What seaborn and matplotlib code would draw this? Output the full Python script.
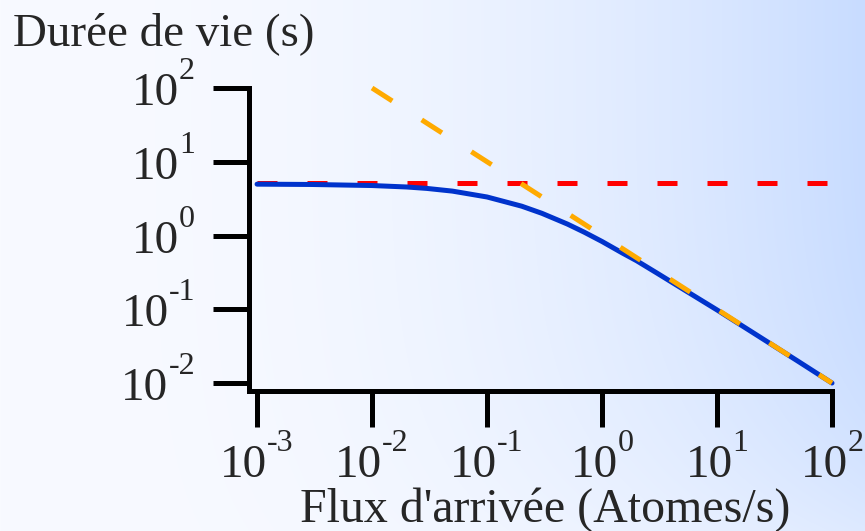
import numpy as np
import matplotlib
matplotlib.use("Agg")
import matplotlib.pyplot as plt
import seaborn as sns

# ---- data ----
flux = [1e-3, 3e-3, 1e-2, 2e-2, 3e-2, 5e-2, 0.1, 0.2, 0.3, 0.5, 0.7,
        1.0, 1.5, 2.0, 3.0, 5.0, 10.0, 20.0, 50.0, 100.0]
lifetime = [4.97, 4.92, 4.76, 4.55, 4.35, 4.0, 3.33, 2.5, 2.0, 1.43, 1.11,
            0.83, 0.58, 0.455, 0.31, 0.19, 0.098, 0.0495, 0.02, 0.01]
plateau_flux = [1e-3, 1e2]
plateau_life = [5.1, 5.1]
slope_flux = [1e-2, 1e2]
slope_life = [1e2, 1e-2]
xticks = [1e-3, 1e-2, 1e-1, 1e0, 1e1, 1e2]
xtick_exponents = ["-3", "-2", "-1", "0", "1", "2"]
yticks = [1e-2, 1e-1, 1e0, 1e1, 1e2]
ytick_exponents = ["-2", "-1", "0", "1", "2"]
tick_base = "10"
title_text = "Durée de vie (s)"
xlabel_text = "Flux d'arrivée (Atomes/s)"

sns.set_style("ticks")
plt.rcParams["font.family"] = ["Liberation Serif", "DejaVu Serif"]

W, H = 865, 531
fig = plt.figure(figsize=(W / 100, H / 100), dpi=100)

# background gradient
bg = fig.add_axes([0, 0, 1, 1], zorder=-10)
xx = np.linspace(0, 1, W)[None, :]
yy = np.linspace(0, 1, H)[:, None]
t = (xx ** 2.25) * (1 - 0.45 * yy ** 4)
left = np.array([248, 250, 255]) / 255
right = np.array([200, 220, 255]) / 255
img = left[None, None, :] * (1 - t[..., None]) + right[None, None, :] * t[..., None]
bg.imshow(img, aspect="auto", extent=[0, 1, 0, 1], origin="upper")
bg.axis("off")

AX_L, AX_R, AX_T, AX_B = 249, 832, 88, 391
ax = fig.add_axes([AX_L / W, (H - AX_B) / H, (AX_R - AX_L) / W, (AX_B - AX_T) / H])
ax.set_facecolor("none")
ax.set_xscale("log")
ax.set_yscale("log")

sns.lineplot(x=plateau_flux, y=plateau_life, ax=ax, color="#ff0000",
             linewidth=3.6, linestyle=(0, (4.0, 6.0)), clip_on=False, zorder=2)
sns.lineplot(x=flux, y=lifetime, ax=ax, color="#0033cc", linewidth=3.6,
             clip_on=False, zorder=3, sort=False)
sns.lineplot(x=slope_flux, y=slope_life, ax=ax, color="#ffaa00",
             linewidth=3.6, linestyle=(0, (4.8, 7.0)), clip_on=False, zorder=4)

ax.set_xlim(10 ** -3.07, 1e2)
ax.set_ylim(10 ** -2.108, 1e2)
ax.xaxis.set_minor_locator(matplotlib.ticker.NullLocator())
ax.yaxis.set_minor_locator(matplotlib.ticker.NullLocator())
ax.set_xticks(xticks)
ax.set_xticklabels([])
ax.set_yticks(yticks)
ax.set_yticklabels([])

for s in ["top", "right"]:
    ax.spines[s].set_visible(False)
for s in ["left", "bottom"]:
    ax.spines[s].set_linewidth(3.6)
    ax.spines[s].set_color("black")

ax.tick_params(axis="both", which="major", direction="out", length=26,
               width=3.6, color="black")
ax.set_xlabel("")
ax.set_ylabel("")

BASE_FS = 34
EXP_FS = 23
renderer = fig.canvas.get_renderer()

# x tick labels: "10" + raised exponent, centred on the tick
for xt, e in zip(xticks, xtick_exponents):
    t10 = ax.annotate(tick_base, xy=(xt, 0), xycoords=("data", "axes fraction"),
                      xytext=(0, 0), textcoords="offset pixels", fontsize=BASE_FS,
                      ha="left", va="baseline", annotation_clip=False)
    te = ax.annotate(e, xy=(xt, 0), xycoords=("data", "axes fraction"),
                     xytext=(0, 0), textcoords="offset pixels", fontsize=EXP_FS,
                     ha="left", va="baseline", annotation_clip=False)
    w10 = t10.get_window_extent(renderer).width
    we = te.get_window_extent(renderer).width
    lx = -(w10 + we) / 2
    t10.xyann = (lx, -(477 - AX_B))
    te.xyann = (lx + w10, -(451 - AX_B))

# y tick labels: right-aligned
for yt, e in zip(yticks, ytick_exponents):
    te = ax.annotate(e, xy=(0, yt), xycoords=("axes fraction", "data"),
                     xytext=(195 - AX_L, 9), textcoords="offset pixels",
                     fontsize=EXP_FS, ha="right", va="baseline", annotation_clip=False)
    we = te.get_window_extent(renderer).width
    ax.annotate(tick_base, xy=(0, yt), xycoords=("axes fraction", "data"),
                xytext=(195 - AX_L - we, -17), textcoords="offset pixels",
                fontsize=BASE_FS, ha="right", va="baseline", annotation_clip=False)

fig.text(13 / W, 1 - 45 / H, title_text, fontsize=33.8, ha="left", va="baseline")
fig.text(545 / W, 1 - 522 / H, xlabel_text, fontsize=34.5, ha="center", va="baseline")

fig.savefig("out.png", dpi=100)
